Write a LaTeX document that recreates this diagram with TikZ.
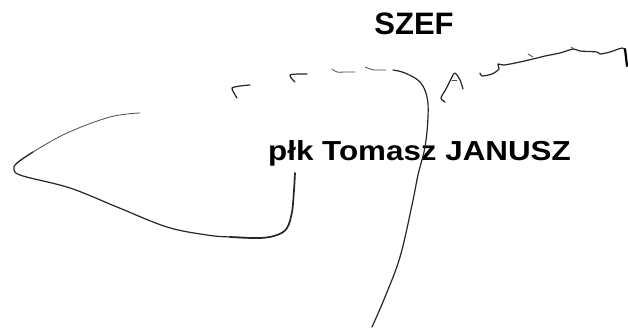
\documentclass[tikz,border=0pt]{standalone}
\usepackage{fontspec}
\usepackage{graphicx}
\setmainfont{Liberation Sans}
\tikzset{
  pen/.style={draw=black!85, line width=1.2pt, line cap=round, line join=round},
  thinpen/.style={pen, line width=0.8pt, draw=black!70},
  thickpen/.style={pen, line width=1.7pt},
  label/.style={inner sep=0pt, font=\bfseries}
}
\begin{document}
\begin{tikzpicture}[x=1pt,y=-1pt]
\useasboundingbox[fill=white] (0,0) rectangle (628,329);
% texts
\node[label, anchor=base, font=\fontsize{31}{31}\selectfont\bfseries] (szef) at (414,35) {SZEF};
\node[label, anchor=base, font=\fontsize{27.5}{27.5}\selectfont\bfseries] (name) at (419.5,160) {\scalebox{1.14}[1]{płk Tomasz JANUSZ}};
% left big stroke
\draw[thinpen] plot[smooth, tension=0.6] coordinates {(140,113) (110,117) (67,133) (33,152) (17,163)};
\draw[pen] plot[smooth, tension=0.6] coordinates {(33,152) (17,163) (14,170) (23,176) (70,188) (117,207) (167,227) (207,235) (230,237) (260,238)};
\draw[thickpen] plot[smooth, tension=0.6] coordinates {(230,237) (260,238) (277,235) (287,228) (292,212) (294,190) (295,173)};
% small hooks
\draw[pen] plot[smooth, tension=0.5] coordinates {(250,85) (240,86) (232,88) (234,93) (237,98)};
\draw[pen] plot[smooth, tension=0.5] coordinates {(307,74) (298,74) (290,75) (292,79) (295,82)};
\draw[thinpen] plot[smooth, tension=0.5] coordinates {(332,69) (337,72) (346,72) (355,72)};
\draw[thinpen] plot[smooth, tension=0.5] coordinates {(365,67) (370,69) (374,70) (386,70)};
% long descending stroke
\draw[pen] plot[smooth, tension=0.6] coordinates {(393,70) (405,73) (420,82) (427,97) (428,117) (425,147) (418,175) (412,205) (400,257) (385,297) (372,327)};
% "A"
\draw[pen] plot[smooth, tension=0.5] coordinates {(445,102) (441,98) (446,89) (452,77) (455,73) (460,80) (463,89)};
\draw[thinpen] (452,80) -- (457,80);
% long right stroke
\draw[pen] plot[smooth, tension=0.5] coordinates {(480,73) (482,76) (492,74) (499,69) (498,64) (504,65) (520,62) (537,58) (545,56) (560,53) (573,49) (580,51) (597,52) (600,54) (610,52) (622,48) (625,50)};
\draw[thinpen] (528,54) -- (533,57);
\draw[thinpen] (571,47) -- (574,49);
\draw[line width=2.2pt, draw=black, line cap=round] (625,49) -- (627,66);
\end{tikzpicture}
\end{document}
